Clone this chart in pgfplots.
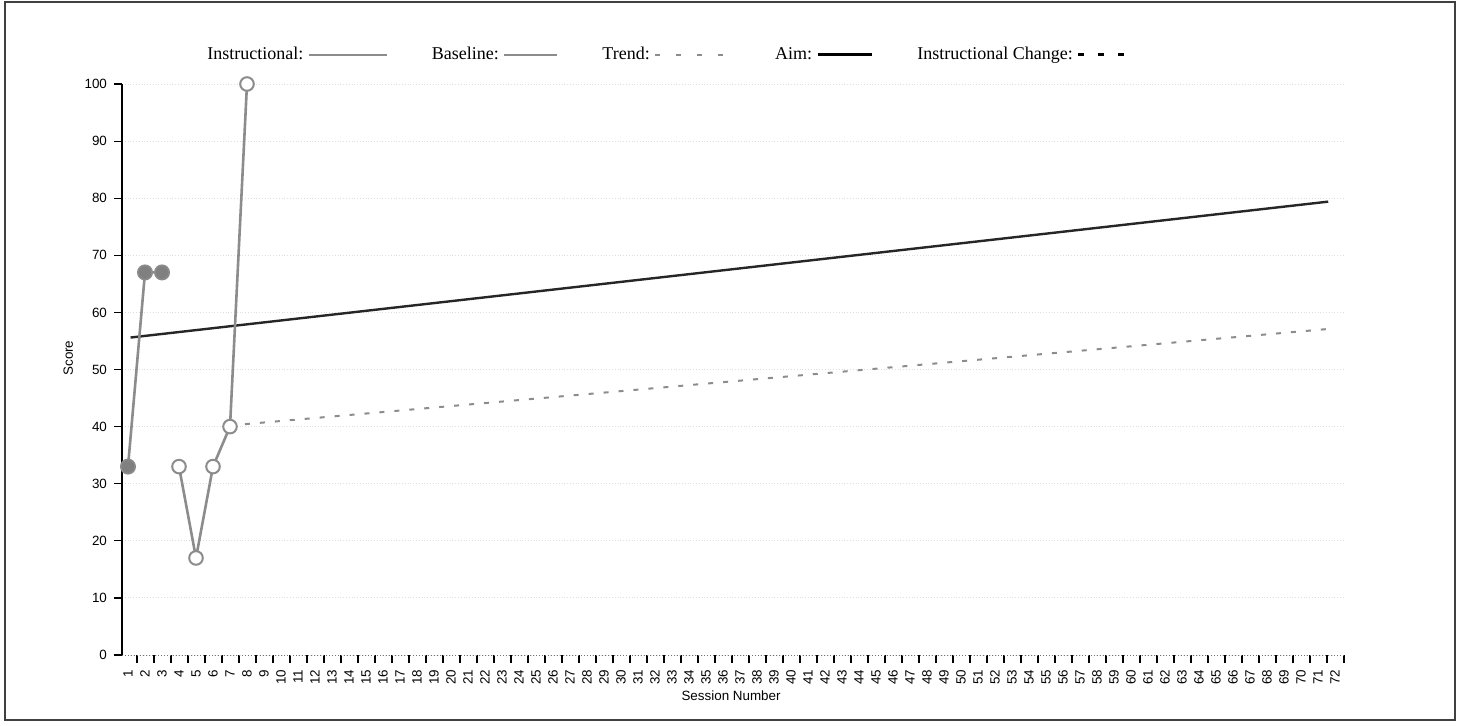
\documentclass[border=0pt]{standalone}
\usepackage{fontspec}
\setmainfont{Liberation Serif}
\newfontfamily\arialf{Liberation Sans}
\usepackage{pgfplots}
\pgfplotsset{compat=1.18}
\definecolor{lgray}{RGB}{140,140,140}
\definecolor{mgray}{RGB}{128,128,128}
\begin{document}
\begin{tikzpicture}
\useasboundingbox (0,0) rectangle (730.5pt,-362.5pt);
\draw[black!75, line width=0.9pt] (2.5pt,-1pt) rectangle (727.5pt,-360pt);
\begin{axis}[
  at={(61pt,-327.5pt)}, anchor=south west,
  scale only axis, width=611.5pt, height=285.5pt,
  xmin=0.647, xmax=72.59, ymin=0, ymax=100,
  clip=false,
  axis x line*=bottom, axis y line*=left,
  x axis line style={black!55, densely dotted, line width=0.5pt},
  y axis line style={black, line width=0.8pt},
  ytick={0,10,...,100},
  xtick={1.53,2.53,...,72.53},
  xticklabel={\pgfmathtruncatemacro\lab{\tick}\lab},
  tick align=outside,
  major tick length=4pt,
  tick style={black, line width=0.6pt},
  ymajorgrids, grid style={black!13, densely dotted, line width=0.5pt},
  /pgf/number format/assume math mode=true,
  ticklabel style={font=\arialf\fontsize{6.7}{7}\selectfont},
  xticklabel style={xshift=-4.5pt, rotate=90, anchor=east},
  ylabel={Score}, xlabel={Session Number},
  label style={font=\arialf\fontsize{6.7}{7}\selectfont},
  ylabel style={at={(axis description cs:-0.044,0.52)}, anchor=center},
  xlabel style={at={(axis description cs:0.498,-0.072)}, anchor=center},
  legend plot pos=right,
  legend style={at={(axis description cs:0.447,1.051)}, anchor=center,
    draw=none, fill=none, font=\fontsize{9}{10}\selectfont,
    legend columns=5,
    /tikz/every even column/.append style={column sep=20pt}},
]
% trend line
\addplot[lgray, line width=1pt, dash pattern=on 2.5pt off 5pt, forget plot]
  coordinates {(7,40.2) (71.6,57.1)};
% aim line
\addplot[black!85, line width=1.2pt, forget plot]
  coordinates {(1.15,55.6) (71.6,79.4)};
% baseline
\addplot[lgray, line width=1.3pt, mark=*, mark size=3.6pt,
  mark options={fill=mgray, draw=lgray, line width=0.8pt, solid}, forget plot]
  coordinates {(1,33) (2,67) (3,67)};
% instructional
\addplot[lgray, line width=1.3pt, mark=*, mark size=3.4pt,
  mark options={fill=white, draw=lgray, line width=1pt, solid}, forget plot]
  coordinates {(4,33) (5,17) (6,33) (7,40) (8,100)};

\addlegendimage{lgray, line width=1.3pt, legend image code/.code={\draw (0pt,0pt) -- (39pt,0pt);}}
\addlegendentry{Instructional:}
\addlegendimage{lgray, line width=1.3pt, legend image code/.code={\draw (0pt,0pt) -- (26.5pt,0pt);}}
\addlegendentry{Baseline:}
\addlegendimage{lgray, line width=1.2pt, dash pattern=on 2.5pt off 8pt, legend image code/.code={\draw (0pt,0pt) -- (37.5pt,0pt);}}
\addlegendentry{Trend:}
\addlegendimage{black, line width=1.6pt, legend image code/.code={\draw (0pt,0pt) -- (27pt,0pt);}}
\addlegendentry{Aim:}
\addlegendimage{black, line width=1.6pt, dash pattern=on 3pt off 7pt, legend image code/.code={\draw (0pt,0pt) -- (27pt,0pt);}}
\addlegendentry{Instructional Change:}
\end{axis}
\end{tikzpicture}
\end{document}
